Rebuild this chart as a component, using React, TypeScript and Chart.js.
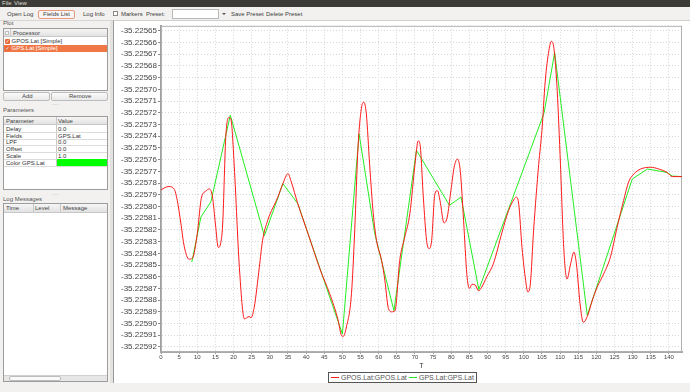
import React, { useEffect, useRef } from "react";
import { Chart, registerables } from "chart.js";
Chart.register(...registerables);

// ---------- data ----------
const gposT = [
  0, 1, 2.2, 3.6, 4.5, 5.5, 6.4, 7.7, 8.7, 10.0, 11.0, 11.4, 12.3, 13.3, 14.2, 15.0, 15.8, 16.4, 17.0, 17.9,
  18.8, 19.3, 20.2, 21.6, 23.0, 24.3, 24.8, 25.7, 27.1, 28.0, 29.4, 32.2, 33.6, 35.0, 35.9, 37.7, 40.5, 44.0,
  46.5, 48.8, 49.7, 50.2, 51.1, 52.5, 53.4, 54.3, 55.3, 55.9, 56.6, 57.5, 58.5, 59.4, 60.8, 61.7, 62.6, 63.5,
  64.5, 65.8, 67.2, 68.6, 70.0, 70.9, 71.4, 72.3, 73.2, 73.9, 74.6, 75.5, 76.2, 76.9, 78.0, 78.9, 79.9, 80.8,
  81.7, 82.5, 83.4, 84.3, 85.0, 85.7, 86.6, 87.5, 88.4, 89.8, 91.6, 94.0, 95.8, 97.4, 97.9, 98.6, 99.5, 100.5,
  101.1, 101.8, 102.7, 104.1, 105.0, 105.9, 106.9, 107.6, 108.3, 109.2, 110.1, 111.0, 111.9, 112.9, 113.8,
  114.5, 115.5, 116.4, 117.5, 118.9, 120.2, 122.1, 123.9, 125.7, 127.5, 128.9, 130.4, 132.2, 135.0, 137.2,
  139.5, 140.9, 143.6,
];
const gposLat = [
  -35.225786, -35.225784, -35.225783, -35.225785, -35.225795, -35.225815, -35.225834, -35.225845, -35.225844,
  -35.225823, -35.225795, -35.22579, -35.225787, -35.225785, -35.225792, -35.225815, -35.225835, -35.225832,
  -35.225815, -35.225738, -35.225724, -35.225726, -35.225766, -35.225852, -35.225896, -35.225894, -35.225895,
  -35.225886, -35.225852, -35.225829, -35.225812, -35.225792, -35.2257805, -35.225772, -35.225779, -35.2257975,
  -35.225823, -35.225855, -35.2258745, -35.225897, -35.22591, -35.225911, -35.225903, -35.2258745, -35.22582,
  -35.2257495, -35.225715, -35.225711, -35.225721, -35.225764, -35.225806, -35.225829, -35.225846, -35.225863,
  -35.225886, -35.22589, -35.225889, -35.225846, -35.225826, -35.225806, -35.225764, -35.225744, -35.225747,
  -35.225792, -35.225829, -35.225836, -35.225829, -35.225789, -35.2257865, -35.225795, -35.225814, -35.225809,
  -35.2257865, -35.2257665, -35.2257595, -35.22577, -35.225812, -35.225858, -35.22587, -35.2258665, -35.225867,
  -35.225872, -35.225869, -35.22586, -35.225849, -35.225822, -35.2258035, -35.2257935, -35.225792, -35.225798,
  -35.225835, -35.225863, -35.225873, -35.225866, -35.2258205, -35.225764, -35.225735, -35.225693, -35.225667,
  -35.225659, -35.225665, -35.225701, -35.225764, -35.225835, -35.225862, -35.225849, -35.225839, -35.225849,
  -35.225883, -35.225899, -35.225894, -35.22588, -35.225869, -35.225857, -35.225843, -35.225818, -35.225795,
  -35.225779, -35.225772, -35.225768, -35.2257665, -35.225768, -35.225771, -35.2257745, -35.2257745,
];
const gpsT = [
  8.5, 11.0, 13.75, 19.1, 28.5, 33.6, 37.7, 50.0, 54.6, 58.9, 64.2, 70.4, 79.5, 82.7, 87.6, 105.6, 108.5,
  117.5, 129.9, 134.1, 139.5, 140.9, 143.6,
];
const gpsLat = [
  -35.2258475, -35.225809, -35.225796, -35.225722, -35.225825, -35.2257805, -35.2257975, -35.225909, -35.225738,
  -35.225823, -35.225889, -35.225752, -35.225799, -35.225792, -35.225871, -35.22572, -35.2256685, -35.225893,
  -35.2257765, -35.225768, -35.225771, -35.225774, -35.2257745,
];
const seriesNames = ["GPOS.Lat:GPOS.Lat", "GPS.Lat:GPS.Lat"];
const xMin = 0;
const xMax = 143.6;
const xStep = 5;
const yMin = -35.2259243;
const yMax = -35.2256457;
const yStep = 0.00001;
const xTitle = "T";

const processors = ["GPOS.Lat [Simple]", "GPS.Lat [Simple]"];
const paramNames = ["Delay", "Fields", "LPF", "Offset", "Scale", "Color GPS.Lat"];
const paramValues = ["0.0", "GPS.Lat", "0.0", "0.0", "1.0", ""];

const UI_FONT = '"Liberation Sans", Arial, sans-serif';
const RED = "#ff1a1a";
const GREEN = "#22ee22";

function Txt(props: any) {
  const { x, y, size = 6, color = "#3c3c3c", children, style } = props;
  return (
    <div
      style={{
        position: "absolute",
        left: x,
        top: y,
        fontSize: size,
        lineHeight: `${size + 1}px`,
        color,
        whiteSpace: "nowrap",
        ...style,
      }}
    >
      {children}
    </div>
  );
}

function Box(props: any) {
  const { x, y, w, h, style, children } = props;
  return (
    <div style={{ position: "absolute", left: x, top: y, width: w, height: h, boxSizing: "border-box", ...style }}>
      {children}
    </div>
  );
}

const framePlugin = {
  id: "frame",
  beforeDatasetsDraw(c: any) {
    const { left, top, right, bottom } = c.chartArea;
    const ctx = c.ctx;
    ctx.save();
    ctx.strokeStyle = "#b0b0b0";
    ctx.lineWidth = 1;
    ctx.strokeRect(left + 0.5, top + 0.5, right - left - 1, bottom - top - 1);
    ctx.restore();
  },
};

function ChartView() {
  const ref = useRef<HTMLCanvasElement>(null);
  useEffect(() => {
    const chart = new Chart(ref.current as HTMLCanvasElement, {
      type: "scatter",
      data: {
        datasets: [
          {
            label: seriesNames[0],
            data: gposT.map((t, i) => ({ x: t, y: gposLat[i] })),
            showLine: true,
            borderColor: RED,
            backgroundColor: RED,
            borderWidth: 1,
            pointRadius: 0,
            cubicInterpolationMode: "monotone",
          } as any,
          {
            label: seriesNames[1],
            data: gpsT.map((t, i) => ({ x: t, y: gpsLat[i] })),
            showLine: true,
            borderColor: GREEN,
            backgroundColor: GREEN,
            borderWidth: 1,
            pointRadius: 0,
            tension: 0,
          } as any,
        ],
      },
      options: {
        animation: false,
        responsive: false,
        maintainAspectRatio: false,
        plugins: { legend: { display: false }, tooltip: { enabled: false } },
        layout: { padding: { top: 5, right: 8, bottom: 13, left: 0 } },
        scales: {
          x: {
            type: "linear",
            min: xMin,
            max: xMax,
            ticks: {
              stepSize: xStep,
              includeBounds: false,
              autoSkip: false,
              maxRotation: 0,
              padding: 0,
              color: "#444",
              font: { family: UI_FONT, size: 6 },
            },
            grid: { color: "#d6d6d6", tickLength: 2, tickColor: "#999" },
            border: { color: "#a8a8a8", width: 2, dash: [1, 2] },
            title: {
              display: true,
              text: xTitle,
              color: "#333",
              padding: 0,
              font: { family: UI_FONT, size: 7 },
            },
            afterFit: (s: any) => {
              s.height = 18;
            },
          },
          y: {
            type: "linear",
            min: yMin,
            max: yMax,
            ticks: {
              stepSize: yStep,
              includeBounds: false,
              autoSkip: false,
              padding: 1,
              color: "#444",
              font: { family: UI_FONT, size: 8 },
              callback: (v: any) => Number(v).toFixed(5),
            },
            grid: { color: "#d6d6d6", tickLength: 3, tickColor: "#888" },
            border: { color: "#a0a0a0", width: 2, dash: [1, 2] },
            afterFit: (s: any) => {
              s.width = 48;
            },
          },
        },
      } as any,
      plugins: [framePlugin],
    });
    return () => chart.destroy();
  }, []);
  return (
    <canvas
      ref={ref}
      width={577}
      height={363}
      style={{ position: "absolute", left: 113, top: 20, width: 577, height: 363 }}
    />
  );
}

function CheckIcon(props: any) {
  const { x, y } = props;
  return (
    <Box
      x={x}
      y={y}
      w={5}
      h={5}
      style={{
        background: "#e9673b",
        borderRadius: 1,
        color: "#fff",
        fontSize: 5,
        lineHeight: "5px",
        textAlign: "center",
        fontFamily: "DejaVu Sans",
      }}
    >
      ✓
    </Box>
  );
}

const headerBg = "linear-gradient(#f6f6f6, #e2e2e2)";

export default function App() {
  return (
    <div
      style={{
        position: "fixed",
        left: 0,
        top: 0,
        width: 690,
        height: 392,
        overflow: "hidden",
        background: "#f2f1f0",
        fontFamily: UI_FONT,
      }}
    >
      {/* menu bar */}
      <Box x={0} y={0} w={690} h={7} style={{ background: "#3c3b37" }} />
      <Txt x={2} y={0} size={6} color="#dfdbd2">File</Txt>
      <Txt x={14} y={0} size={6} color="#dfdbd2">View</Txt>

      {/* toolbar */}
      <Txt x={7} y={10.5}>Open Log</Txt>
      <Box
        x={38}
        y={9.5}
        w={37}
        h={9}
        style={{ border: "1px solid #e79a80", borderRadius: 2, background: "#f7f6f5" }}
      />
      <Txt x={43} y={10.5}>Fields List</Txt>
      <Txt x={83} y={10.5}>Log Info</Txt>
      <Box x={113} y={11} w={5} h={5} style={{ border: "1px solid #8a8a8a", background: "#fff" }} />
      <Txt x={121} y={10.5}>Markers</Txt>
      <Txt x={146} y={10.5}>Preset:</Txt>
      <Box x={172} y={9} w={47} h={10} style={{ border: "1px solid #b9b9b9", background: "#fff" }} />
      <Box
        x={222}
        y={13}
        w={0}
        h={0}
        style={{ borderLeft: "2px solid transparent", borderRight: "2px solid transparent", borderTop: "2px solid #555" }}
      />
      <Txt x={231} y={10.5}>Save Preset</Txt>
      <Txt x={266} y={10.5}>Delete Preset</Txt>
      <Box x={0} y={20} w={690} h={1} style={{ background: "#d8d6d2" }} />

      {/* Plot panel */}
      <Txt x={3} y={19.5} color="#555">Plot</Txt>
      <Box x={3} y={28} w={105} h={63} style={{ border: "1px solid #9c9c9c", background: "#fff" }}>
        <Box x={0} y={0} w={103} h={8} style={{ background: headerBg, borderBottom: "1px solid #c8c8c8" }} />
        <Box x={6} y={0} w={1} h={8} style={{ background: "#c8c8c8" }} />
        <Box x={1} y={2} w={4} h={4} style={{ border: "1px solid #c0c0c0", background: "#fafafa" }} />
        <Txt x={9} y={0.5} color="#444">Processor</Txt>
        <CheckIcon x={1} y={9.5} />
        <Txt x={7.5} y={8.5} color="#333">{processors[0]}</Txt>
        <Box x={0} y={15.5} w={103} h={7} style={{ background: "#f07746" }} />
        <CheckIcon x={1} y={16.5} />
        <Txt x={7.5} y={15.5} color="#fff">{processors[1]}</Txt>
      </Box>
      <Box
        x={3}
        y={92}
        w={47}
        h={9}
        style={{ border: "1px solid #bcbcbc", borderRadius: 2, background: "linear-gradient(#fafafa,#e9e9e9)" }}
      />
      <Txt x={22} y={93} color="#444">Add</Txt>
      <Box
        x={51}
        y={92}
        w={57}
        h={9}
        style={{ border: "1px solid #bcbcbc", borderRadius: 2, background: "linear-gradient(#fafafa,#e9e9e9)" }}
      />
      <Txt x={69} y={93} color="#444">Remove</Txt>
      <Txt x={52} y={100} size={5} color="#aaa">.....</Txt>

      {/* Parameters panel */}
      <Txt x={3} y={106.5} color="#555">Parameters</Txt>
      <Box x={3} y={116} w={105} h={74} style={{ border: "1px solid #9c9c9c", background: "#fff" }}>
        <Box x={0} y={0} w={103} h={8} style={{ background: headerBg, borderBottom: "1px solid #c8c8c8" }} />
        <Txt x={2} y={0.5} color="#444">Parameter</Txt>
        <Txt x={54} y={0.5} color="#444">Value</Txt>
        <Box x={52} y={0} w={1} h={49} style={{ background: "#c8c8c8" }} />
        {paramNames.map((n, i) => (
          <React.Fragment key={n}>
            <Box x={0} y={9 + i * 6.7 + 6} w={103} h={1} style={{ background: "#dcdcdc" }} />
            <Txt x={2} y={9 + i * 6.7} color="#333">{n}</Txt>
            {i === 5 ? (
              <Box x={53} y={9 + i * 6.7 - 0.5} w={50} h={6.5} style={{ background: "#00ff00" }} />
            ) : (
              <Txt x={54} y={9 + i * 6.7} color="#333">{paramValues[i]}</Txt>
            )}
          </React.Fragment>
        ))}
      </Box>
      <Txt x={52} y={190} size={5} color="#aaa">.....</Txt>

      {/* Log messages panel */}
      <Txt x={3} y={195.5} color="#555">Log Messages</Txt>
      <Box x={3} y={203} w={105} h={179} style={{ border: "1px solid #9c9c9c", background: "#fff" }}>
        <Box x={0} y={0} w={103} h={9} style={{ background: headerBg, borderBottom: "1px solid #c8c8c8" }} />
        <Box x={28.5} y={0} w={1} h={9} style={{ background: "#c8c8c8" }} />
        <Box x={56} y={0} w={1} h={9} style={{ background: "#c8c8c8" }} />
        <Txt x={2} y={1} color="#444">Time</Txt>
        <Txt x={31} y={1} color="#444">Level</Txt>
        <Txt x={59} y={1} color="#444">Message</Txt>
        <Box x={0} y={171} w={103} h={6} style={{ background: "#e6e6e6", borderTop: "1px solid #d0d0d0" }} />
        <Box x={5} y={172} w={52} h={5} style={{ background: "#fafafa", border: "1px solid #bdbdbd", borderRadius: 2 }} />
      </Box>

      {/* splitter + chart panel */}
      <Box x={110} y={21} w={3} h={362} style={{ background: "#e4e2df" }} />
      <Box
        x={113}
        y={20}
        w={577}
        h={363}
        style={{ background: "#fff", borderLeft: "1px solid #9a9a9a", borderTop: "1px solid #cfcfcf" }}
      />
      <ChartView />

      {/* legend */}
      <Box x={328} y={372} w={149} h={11} style={{ border: "1px solid #555", background: "#fff" }} />
      <Box x={331} y={377} w={8} h={1} style={{ background: RED }} />
      <Txt x={341} y={373.5} size={7} color="#555">{seriesNames[0]}</Txt>
      <Box x={409} y={377} w={8} h={1} style={{ background: GREEN }} />
      <Txt x={419} y={373.5} size={7} color="#555">{seriesNames[1]}</Txt>
    </div>
  );
}
